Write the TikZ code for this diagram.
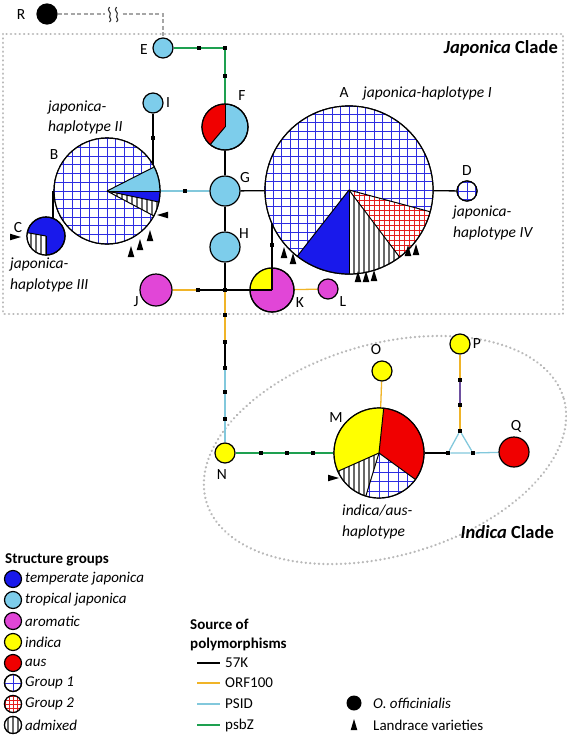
\documentclass[tikz,border=0pt]{standalone}
\usepackage{fontspec}
\setmainfont{Carlito}
\usetikzlibrary{calc}
\definecolor{tempjap}{RGB}{25,25,235}
\definecolor{tropjap}{RGB}{125,205,235}
\definecolor{aroma}{RGB}{225,70,215}
\definecolor{indic}{RGB}{255,255,0}
\definecolor{ausc}{RGB}{240,0,0}
\definecolor{gblue}{RGB}{45,45,225}
\definecolor{gred}{RGB}{230,30,30}
\definecolor{strc}{RGB}{105,105,105}
\definecolor{orfc}{RGB}{240,180,40}
\definecolor{psidc}{RGB}{130,200,220}
\definecolor{psbzc}{RGB}{30,160,80}
\definecolor{purc}{RGB}{110,80,160}
\definecolor{boxgray}{RGB}{185,185,185}
\pgfdeclarelayer{bg}
\pgfsetlayers{bg,main}
\newcommand{\solidslice}[6]{\fill[#6] (#1,#2) -- ++(#4:#3) arc[start angle=#4,end angle=#5,radius=#3] -- cycle;}
\newcommand{\gridslice}[7]{\begin{scope}\clip (#1,#2) -- ++(#4:#3) arc[start angle=#4,end angle=#5,radius=#3] -- cycle;
 \fill[white] (#1-#3,#2-#3) rectangle (#1+#3,#2+#3);
 \foreach \k in {-18,...,18}{\draw[#6,line width=1pt] (#1+\k*#7,#2-#3) -- (#1+\k*#7,#2+#3);
   \draw[#6,line width=1pt] (#1-#3,#2+\k*#7) -- (#1+#3,#2+\k*#7);}\end{scope}}
\newcommand{\stripeslice}[5]{\begin{scope}\clip (#1,#2) -- ++(#4:#3) arc[start angle=#4,end angle=#5,radius=#3] -- cycle;
 \fill[white] (#1-#3,#2-#3) rectangle (#1+#3,#2+#3);
 \foreach \k in {-90,-85,...,90}{\draw[strc,line width=2pt] (#1+\k,#2-#3) -- (#1+\k,#2+#3);}\end{scope}}
\newcommand{\landup}[2]{\fill[black] (#1,#2) -- (#1-3.3,#2+11) -- (#1+3.3,#2+11) -- cycle;}
\newcommand{\landleft}[2]{\fill[black] (#1,#2) -- (#1+11,#2-3.3) -- (#1+11,#2+3.3) -- cycle;}
\newcommand{\landright}[2]{\fill[black] (#1,#2) -- (#1-11,#2-3.3) -- (#1-11,#2+3.3) -- cycle;}
\begin{document}
\begin{tikzpicture}[x=1pt,y=-1pt,
 hap/.style={circle,draw=black,line width=1.2pt,inner sep=0pt},
 mut/.style={rectangle,fill=black,inner sep=0pt,minimum size=4.2pt},
 c57/.style={draw=black,line width=1.3pt},
 corf/.style={draw=orfc,line width=1.3pt},
 cpsid/.style={draw=psidc,line width=1.3pt},
 cpsbz/.style={draw=psbzc,line width=1.3pt},
 cpur/.style={draw=purc,line width=1.3pt},
 outl/.style={draw=black,line width=1.2pt},
 sepl/.style={draw=black,line width=1pt},
 lab/.style={font=\fontsize{15.5}{18}\selectfont,inner sep=0pt},
 itl/.style={font=\fontsize{15.5}{20.5}\selectfont\itshape,inner sep=0pt,align=left,anchor=west},
 leg/.style={font=\fontsize{15}{17}\selectfont,inner sep=0pt,anchor=west},
 legc/.style={circle,draw=black,line width=1.2pt,inner sep=0pt,minimum size=17pt},
 clade/.style={dash pattern=on 0.1pt off 4.3pt,line cap=round,line width=2.5pt,draw=boxgray},
]
\useasboundingbox (0,0) rectangle (567,737);
% haplotype nodes
\node[hap,fill=black,minimum size=20pt] (R) at (47,14) {};
\node[hap,fill=tropjap,minimum size=20pt] (E) at (163,48) {};
\node[hap,fill=tropjap,minimum size=46pt] (F) at (225,127) {};
\node[hap,fill=tropjap,minimum size=30pt] (G) at (225,191) {};
\node[hap,fill=tropjap,minimum size=30pt] (H) at (225,247) {};
\node[hap,fill=tropjap,minimum size=20pt] (I) at (153,103) {};
\node[hap,minimum size=106pt] (B) at (107,191) {};
\node[hap,fill=tempjap,minimum size=38pt] (C) at (46,236) {};
\node[hap,minimum size=168pt] (A) at (349,190) {};
\node[hap,minimum size=20pt] (D) at (467,191) {};
\node[hap,fill=aroma,minimum size=32pt] (J) at (156,290) {};
\node[hap,fill=aroma,minimum size=44pt] (K) at (272,290) {};
\node[hap,fill=aroma,minimum size=20pt] (L) at (328,289) {};
\node[hap,fill=indic,minimum size=20pt] (N) at (225,453) {};
\node[hap,minimum size=90pt] (M) at (379,453) {};
\node[hap,fill=indic,minimum size=20pt] (O) at (382,371) {};
\node[hap,fill=indic,minimum size=20pt] (P) at (460,344) {};
\node[hap,fill=ausc,minimum size=30pt] (Q) at (514,452) {};
% mutation steps
\node[mut] (e1) at (199,48) {};
\node[mut] (e2) at (225,48) {};
\node[mut] (e3) at (225,76) {};
\node[mut] (ib) at (153,138) {};
\node[mut] (bg1) at (185,191) {};
\node[mut] (ak) at (272,245) {};
\node[mut] (jm) at (198,290) {};
\node[mut] (jn) at (225,290) {};
\node[mut] (s1) at (225,315) {};
\node[mut] (s2) at (225,342) {};
\node[mut] (s3) at (225,368) {};
\node[mut] (s4) at (225,392) {};
\node[mut] (s5) at (225,419) {};
\node[mut] (n1) at (261,453) {};
\node[mut] (n2) at (287,453) {};
\node[mut] (n3) at (313,453) {};
\node[mut] (t1) at (448,453) {};
\node[mut] (t2) at (473,453) {};
\node[mut] (t3) at (460,431) {};
\node[mut] (p1) at (460,380) {};
\node[mut] (p2) at (460,405) {};
\coordinate (cRE) at (163,14);
\begin{pgfonlayer}{bg}
\draw[clade] (3,34) rectangle (563,314);
\draw[clade] plot[domain=0:360,samples=181,variable=\t] ({385+186*cos(\t)*cos(16)+106*sin(\t)*sin(16)},{450-186*cos(\t)*sin(16)+106*sin(\t)*cos(16)});
\draw[draw=boxgray!90!black,line width=1.4pt,dash pattern=on 4pt off 2.5pt] (R) -- (cRE) -- (E);
\draw[cpsbz] (E) -- (e1) -- (e2) -- (e3) -- (F);
\draw[c57] (F) -- (G);
\draw[c57] (G) -- (H);
\draw[c57] (G) -- (A);
\draw[c57] (A) -- (D);
\draw[c57] (I) -- (ib) -- (ib |- B.center);
\draw[cpsid] (B) -- (bg1) -- (G);
\draw[c57] ([xshift=7pt]C.center) -- ([xshift=7pt]C.center |- B.center);
\draw[c57] (K.center) -- (ak) -- (ak |- A.center);
\draw[c57] (H) -- (jn);
\draw[c57] (jn) -- (K.center);
\draw[corf] (J) -- (jm);
\draw[c57] (jm) -- (jn);
\draw[corf] (jn) -- (s1) -- (s2);
\draw[c57] (s2) -- (s3);
\draw[cpsid] (s3) -- (s4) -- (s5) -- (N);
\draw[corf] (K) -- (L);
\draw[cpsbz] (N) -- (n1) -- (n2) -- (n3) -- (M);
\draw[corf] (O) -- (M);
\draw[c57] (M) -- (t1);
\draw[cpsid] (t1) -- (t2) -- (t3) -- (t1);
\draw[cpsid] (t2) -- (Q);
\draw[corf] (P) -- (p1);
\draw[cpur] (p1) -- (p2);
\draw[corf] (p2) -- (t3);
\end{pgfonlayer}
% break mark on the outgroup branch
\fill[white] (105,6) rectangle (121,23);
\foreach \xx in {110,117}{\draw[black!80,line width=1.1pt] (\xx-0.5,7) .. controls (\xx-4,11) and (\xx+2,12) .. (\xx,15) .. controls (\xx-2,18) and (\xx+3,19) .. (\xx-0.5,22);}
% F pie
\solidslice{225}{127}{23}{-90}{-230}{ausc}
\draw[sepl] (225,127) -- ++(-90:23); \draw[sepl] (225,127) -- ++(-230:23);
\draw[outl] (F.center) circle[radius=23];
% B pie
\gridslice{107}{191}{53}{0}{360}{gblue}{8.7}
\solidslice{107}{191}{53}{0}{-27}{tropjap}
\solidslice{107}{191}{53}{0}{12}{tempjap}
\stripeslice{107}{191}{53}{12}{28}
\foreach \t in {-27,0,12,28} {\draw[sepl] (107,191) -- ++(\t:53);}
\draw[outl] (B.center) circle[radius=53];
% C pie
\stripeslice{46}{236}{19}{-170}{-270}
\draw[sepl] (46,236) -- ++(-170:19); \draw[sepl] (46,236) -- ++(-270:19);
\draw[outl] (C.center) circle[radius=19];
% A pie
\gridslice{349}{190}{84}{0}{360}{gblue}{8.4}
\solidslice{349}{190}{84}{-232}{-270}{tempjap}
\stripeslice{349}{190}{84}{-270}{-307}
\gridslice{349}{190}{84}{-307}{-345}{gred}{5}
\foreach \t in {-232,-270,-307,-345} {\draw[sepl] (349,190) -- ++(\t:84);}
\draw[outl] (A.center) circle[radius=84];
% D
\gridslice{467}{191}{10}{0}{360}{gblue}{8.4}
\draw[outl] (D.center) circle[radius=10];
% K
\solidslice{272}{290}{22}{-90}{-180}{indic}
\draw[c57] (272,290) -- ++(-90:22); \draw[c57] (272,290) -- ++(-180:22);
\draw[outl] (K.center) circle[radius=22];
% M pie
\solidslice{379}{453}{45}{36}{-84}{ausc}
\solidslice{379}{453}{45}{-84}{-204}{indic}
\stripeslice{379}{453}{45}{-204}{-253}
\gridslice{379}{453}{45}{-253}{-324}{gblue}{9.5}
\foreach \t in {-84,-204,-253,-324} {\draw[sepl] (379,453) -- ++(\t:45);}
\draw[outl] (M.center) circle[radius=45];
% landrace markers
\landleft{157}{215}
\landup{150}{230} \landup{140}{239} \landup{131}{246}
\landright{21}{237}
\landup{284}{247} \landup{293}{253}
\landup{358}{271} \landup{366}{271} \landup{374}{270}
\landup{408}{245} \landup{416}{244}
\landright{339}{478}
% labels
\node[lab] (lR) at (21,15) {R};
\node[lab] (lE) at (144,50) {E};
\node[lab] (lI) at (168,103) {I};
\node[lab] (lF) at (242,96) {F};
\node[lab] (lG) at (245,178) {G};
\node[lab] (lH) at (244,234) {H};
\node[lab] (lB) at (54,155) {B};
\node[lab] (lC) at (18,228) {C};
\node[lab] (lA) at (344,93) {A};
\node[lab] (lD) at (467,171) {D};
\node[lab] (lJ) at (136,302) {J};
\node[lab] (lK) at (300,303) {K};
\node[lab] (lL) at (343,302) {L};
\node[lab] (lO) at (376,350) {O};
\node[lab] (lP) at (477,344) {P};
\node[lab] (lM) at (336,418) {M};
\node[lab] (lN) at (222,475) {N};
\node[lab] (lQ) at (516,426) {Q};
\node[itl] (tA) at (363,93) {japonica-haplotype I};
\node[itl] (tB) at (48,117.5) {japonica-\\haplotype II};
\node[itl] (tC) at (10,275) {japonica-\\haplotype III};
\node[itl] (tD) at (453,223) {japonica-\\haplotype IV};
\node[itl] (tM) at (342,522) {indica/aus-\\haplotype};
\node[font=\fontsize{18.5}{20}\selectfont\bfseries,anchor=east,inner sep=0pt] (jcl) at (558,48) {\textit{Japonica} Clade};
\node[font=\fontsize{18.5}{20}\selectfont\bfseries,anchor=east,inner sep=0pt] (icl) at (554,532) {\textit{Indica} Clade};
% legend: structure groups
\node[leg,font=\fontsize{15}{17}\selectfont\bfseries] (lgt) at (5,560) {Structure groups};
\node[legc,fill=tempjap] (lg1) at (13,579) {};
\node[legc,fill=tropjap] (lg2) at (13,600) {};
\node[legc,fill=aroma] (lg3) at (13,621) {};
\node[legc,fill=indic] (lg4) at (13,642) {};
\node[legc,fill=ausc] (lg5) at (13,663) {};
\node[legc,fill=white] (lg6) at (13,683) {};
\draw[gblue,line width=1pt] (13,675) -- (13,691) (5,683) -- (21,683);
\draw[outl] (lg6.center) circle[radius=8.5];
\node[legc] (lg7) at (13,704) {};
\gridslice{13}{704}{8.5}{0}{360}{gred}{4}
\draw[outl] (lg7.center) circle[radius=8.5];
\node[legc] (lg8) at (13,725) {};
\stripeslice{13}{725}{8.5}{0}{360}
\draw[outl] (lg8.center) circle[radius=8.5];
\node[leg] (lt1) at (25,579) {\itshape temperate japonica};
\node[leg] (lt2) at (25,600) {\itshape tropical japonica};
\node[leg] (lt3) at (25,621) {\itshape aromatic};
\node[leg] (lt4) at (25,642) {\itshape indica};
\node[leg] (lt5) at (25,663) {\itshape aus};
\node[leg] (lt6) at (25,683) {\itshape Group 1};
\node[leg] (lt7) at (25,704) {\itshape Group 2};
\node[leg] (lt8) at (25,725) {\itshape admixed};
% legend: sources
\node[leg,font=\fontsize{15}{17}\selectfont\bfseries] (ls1) at (190,624) {Source of};
\node[leg,font=\fontsize{15}{17}\selectfont\bfseries] (ls2) at (190,644) {polymorphisms};
\draw[c57] (197,663) -- (220,663);
\draw[corf] (197,683) -- (220,683);
\draw[cpsid] (197,704) -- (220,704);
\draw[cpsbz] (197,725) -- (220,725);
\node[leg] (lp1) at (225,663) {57K};
\node[leg] (lp2) at (225,683) {ORF100};
\node[leg] (lp3) at (225,704) {PSID};
\node[leg] (lp4) at (225,725) {psbZ};
% legend: others
\node[circle,fill=black,inner sep=0pt,minimum size=15pt] (lRo) at (354,703) {};
\landup{354}{719}
\node[leg] (lo1) at (373,703) {\itshape O. officinialis};
\node[leg] (lo2) at (373,725) {Landrace varieties};
\end{tikzpicture}
\end{document}
